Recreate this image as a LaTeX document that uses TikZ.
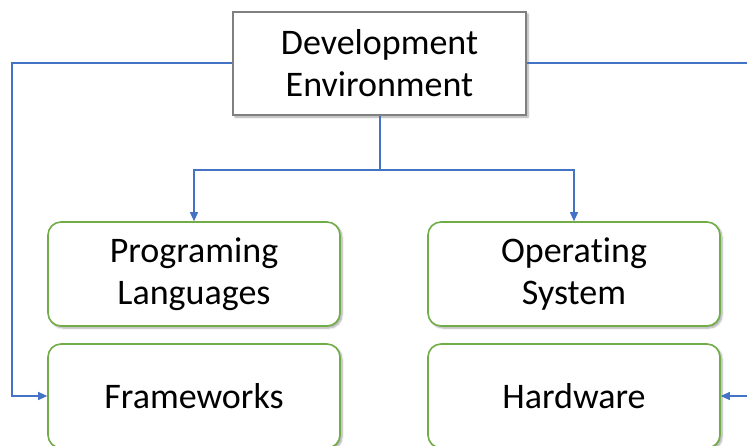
\documentclass[tikz,border=0pt]{standalone}
\usepackage{fontspec}
\setmainfont{Carlito}[Ligatures={NoCommon,NoContextual}]
\usetikzlibrary{arrows.meta,shadows.blur}
\definecolor{linkblue}{RGB}{68,114,196}
\definecolor{leafgreen}{RGB}{112,173,71}
\definecolor{rootgray}{RGB}{128,128,128}
\begin{document}
\begin{tikzpicture}[x=1pt,y=-1pt,
  every node/.style={font=\fontsize{36}{42}\selectfont, align=center, inner sep=0pt},
  rootbox/.style={draw=rootgray, line width=1.6pt, fill=white, minimum width=293pt, minimum height=103pt,
    blur shadow={shadow xshift=2pt, shadow yshift=-2pt, shadow blur steps=6, shadow opacity=35}},
  leafbox/.style={draw=leafgreen, line width=1.6pt, fill=white, rounded corners=13pt, minimum width=292pt, minimum height=104pt,
    blur shadow={shadow xshift=2pt, shadow yshift=-2pt, shadow blur steps=6, shadow opacity=35}},
  link/.style={draw=linkblue, line width=1.1pt},
  tip/.style={-{Triangle[length=9pt,width=8pt]}}]
\useasboundingbox (0,0) rectangle (747,445);
\begin{scope}
\clip (0,0) rectangle (747,445);
\node[rootbox] (root) at (379.5,63.5) {Development\\Environment};
\node[leafbox] (lang) at (194,274) {Programing\\Languages};
% kern keeps "t" and "i" as separate glyphs
\node[leafbox] (os) at (574,274) {Opera\kern0pt ting\\System};
\node[leafbox] (fw) at (194,396) {Frameworks};
\node[leafbox] (hw) at (574,396) {Hardware};
\coordinate (leftturn) at (12,63);
\coordinate (rightend) at (747,63);
\coordinate (hwsrc) at (747,396);
\coordinate (split) at (380,170);
\draw[link] (split |- root.south) -- (split);
\draw[link,tip] (split) -| (lang.north);
\draw[link,tip] (split) -| (os.north);
\draw[link,tip] (root.west |- leftturn) -- (leftturn) |- (fw.west);
\draw[link] (root.east |- rightend) -- (rightend);
\draw[link,tip] (hwsrc) -- (hw.east);
\end{scope}
\end{tikzpicture}
\end{document}
